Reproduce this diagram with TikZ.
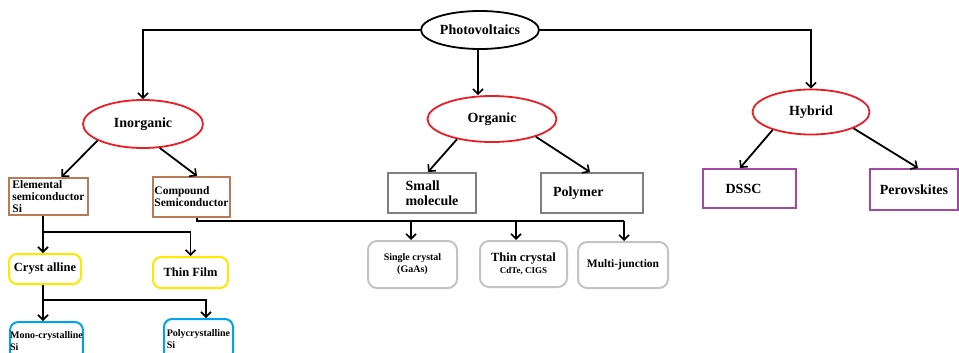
\documentclass[tikz,border=0pt]{standalone}
\usepackage{fontspec}
\setmainfont{Liberation Serif}
\usetikzlibrary{arrows.meta,shapes.geometric,calc}
\definecolor{pvred}{HTML}{ED1C24}
\definecolor{pvbrown}{HTML}{B97A57}
\definecolor{pvgray}{HTML}{7F7F7F}
\definecolor{pvpurple}{HTML}{A349A4}
\definecolor{pvyellow}{HTML}{FFE800}
\definecolor{pvblue}{HTML}{00A2E8}
\definecolor{pvlight}{HTML}{C3C3C3}
\newcommand{\fsz}[2]{\fontsize{#1}{#2}\selectfont\bfseries}
\tikzset{
  x=1pt, y=-1pt,
  arr/.style={line width=1.8pt, -{Straight Barb[length=5pt,width=10pt,line width=1.6pt]}},
  ln/.style={line width=1.8pt},
  ell/.style={ellipse, draw=pvred, line width=1.8pt, inner sep=0pt, font=\fsz{14}{15}},
  topell/.style={ellipse, draw=black, line width=1.8pt, inner sep=0pt, font=\fsz{14}{15}},
  bbox/.style={rectangle, draw=pvbrown, line width=2pt, inner sep=0pt, align=left, font=\fsz{11.5}{12}},
  gbox/.style={rectangle, draw=pvgray, line width=2pt, inner sep=0pt, align=left, font=\fsz{14}{15}},
  pbox/.style={rectangle, draw=pvpurple, line width=2pt, inner sep=0pt, font=\fsz{14}{15}},
  ybox/.style={rectangle, rounded corners=8pt, draw=pvyellow, line width=2pt, inner sep=0pt, font=\fsz{12.5}{14}},
  cbox/.style={rectangle, rounded corners=8pt, draw=pvblue, line width=2pt, inner sep=0pt, align=left, font=\fsz{10}{12}},
  lbox/.style={rectangle, rounded corners=9pt, draw=pvlight, line width=2pt, inner sep=0pt, align=center},
}
\begin{document}
\begin{tikzpicture}
\useasboundingbox (0,0) rectangle (959,353);
% ellipses
\node[topell, minimum width=118pt, minimum height=38pt] (pv) at (480,30) {Photovoltaics};
\node[ell, minimum width=120pt, minimum height=48pt] (inorg) at (143,124) {Inorganic};
\node[ell, minimum width=129pt, minimum height=46pt] (org) at (492,119) {Organic};
\node[ell, minimum width=117pt, minimum height=45pt] (hyb) at (811,112) {Hybrid};
% boxes
\node[bbox, minimum width=79pt, minimum height=37pt] (elem) at (48.5,196.5) {Elemental\\semiconductor\\Si};
\node[bbox, minimum width=77pt, minimum height=40pt] (comp) at (191.5,197) {Compound\\Semiconductor};
\node[gbox, minimum width=88pt, minimum height=40pt] (small) at (432,193) {Small\\molecule};
\node[gbox, text width=78pt, inner xsep=12pt, minimum height=40pt] (poly) at (592,193) {Polymer};
\node[pbox, minimum width=93pt, minimum height=39pt] (dssc) at (749.5,188.5) {\hspace*{-12pt}DSSC};
\node[pbox, minimum width=88pt, minimum height=41pt] (perov) at (914,189.5) {Perovskites};
\node[ybox, minimum width=72pt, minimum height=30pt] (cryst) at (45,269) {Cryst alline};
\node[ybox, minimum width=75pt, minimum height=31pt] (thin) at (190.5,272.5) {Thin Film};
\node[cbox, minimum width=71pt, minimum height=38pt] (mono) at (46.5,341) {Mono-crystalline\\Si};
\node[cbox, minimum width=69pt, minimum height=41pt] (polyc) at (198.5,339.5) {Polycrystalline\\Si};
\node[lbox, minimum width=89pt, minimum height=47pt, font=\fsz{10}{12}] (single) at (412.5,264.5) {Single crystal\\(GaAs)};
\node[lbox, minimum width=87pt, minimum height=46pt] (thinc) at (523.5,264) {{\fsz{12.5}{13}Thin crystal}\\{\fsz{9}{11}CdTe, CIGS}};
\node[lbox, minimum width=90pt, minimum height=46pt, font=\fsz{11.5}{13}] (multi) at (623,265) {Multi-junction};
% top level connectors
\draw[arr] (pv.west) -| (inorg.north);
\draw[arr] (pv.east) -| (hyb.north);
\draw[arr] (pv.south -| 478,0) -- (478,0 |- org.north);
% inorganic branch
\draw[arr] (inorg.200) -- ($(elem.north)+(13,0)$);
\draw[arr] (inorg.305) -- ($(comp.north)+(5.5,0)$);
% organic branch
\draw[arr] (org.210) -- ($(small.north)+(-4,0)$);
\draw[arr] (org.338) -- ($(poly.north)+(-2,0)$);
% hybrid branch
\draw[arr] (hyb.205) -- ($(dssc.north)+(-9.5,0)$);
\draw[arr] (hyb.339) -- ($(perov.north)+(4,0)$);
% elemental -> crystalline / thin film
\draw[arr] (43,0 |- elem.south) -- (43,0 |- cryst.north);
\draw[arr] (43,232) -| (thin.north);
% crystalline -> mono / poly
\draw[arr] (43,0 |- cryst.south) -- (43,0 |- mono.north);
\draw[arr] (43,300) -| ($(polyc.north)+(7.5,0)$);
% compound -> three
\draw[ln] ($(comp.south)+(5.5,0)$) |- (624,221);
\draw[arr] (411,221) -- (411,0 |- single.north);
\draw[arr] (516,221) -- (516,0 |- thinc.north);
\draw[arr] (624,221) -- (624,0 |- multi.north);
\end{tikzpicture}
\end{document}
